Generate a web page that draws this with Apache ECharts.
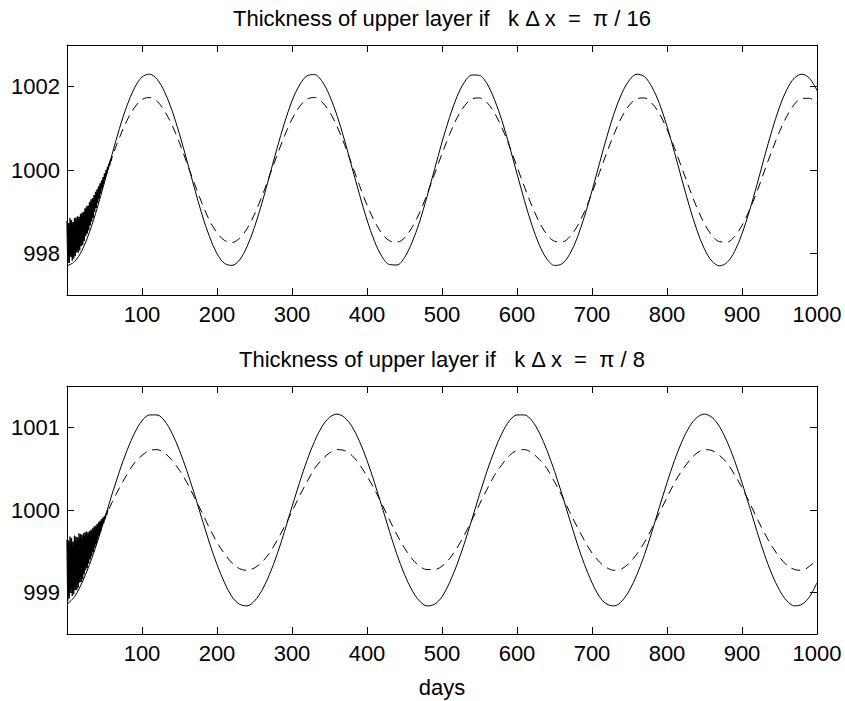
<!DOCTYPE html>
<html><head><meta charset="utf-8">
<script src="https://cdn.jsdelivr.net/npm/echarts@6/dist/echarts.min.js"></script>
<style>html,body{margin:0;padding:0;background:#fff}#c{width:845px;height:701px}</style>
</head><body><div id="c"></div>
<script>
// sampled days (every 10 days)
const days10 = [0,10,20,30,40,50,60,70,80,90,100,110,120,130,140,150,160,170,180,190,200,
210,220,230,240,250,260,270,280,290,300,310,320,330,340,350,360,370,380,390,400,
410,420,430,440,450,460,470,480,490,500,510,520,530,540,550,560,570,580,590,600,
610,620,630,640,650,660,670,680,690,700,710,720,730,740,750,760,770,780,790,800,
810,820,830,840,850,860,870,880,890,900,910,920,930,940,950,960,970,980,990,1000];

// top panel (k dx = pi/16)
const topSolid = [997.70,997.80,998.07,998.51,999.07,999.71,1000.37,1001.00,1001.55,1001.97,
1002.23,1002.30,1002.18,1001.88,1001.43,1000.86,1000.22,999.56,998.93,998.40,
997.99,997.76,997.71,997.84,998.16,998.63,999.21,999.86,1000.52,1001.13,
1001.66,1002.04,1002.26,1002.29,1002.13,1001.79,1001.31,1000.72,1000.06,999.41,
998.80,998.29,997.92,997.73,997.72,997.90,998.26,998.75,999.36,1000.01,
1000.67,1001.26,1001.76,1002.11,1002.28,1002.27,1002.07,1001.69,1001.18,1000.57,
999.91,999.26,998.67,998.19,997.86,997.71,997.75,997.97,998.36,998.89,
999.50,1000.16,1000.81,1001.39,1001.85,1002.16,1002.30,1002.24,1001.99,1001.59,
1001.05,1000.42,999.76,999.12,998.55,998.10,997.81,997.70,997.78,998.04,
998.47,999.02,999.65,1000.32,1000.95,1001.51,1001.94,1002.21,1002.30,1002.20,
1001.91];
const topDashed = [998.26,998.35,998.57,998.91,999.33,999.82,1000.31,1000.78,1001.19,1001.50,
1001.69,1001.74,1001.65,1001.42,1001.08,1000.65,1000.16,999.67,999.20,998.79,
998.49,998.31,998.26,998.36,998.59,998.94,999.37,999.86,1000.35,1000.82,
1001.22,1001.52,1001.70,1001.74,1001.63,1001.40,1001.05,1000.61,1000.12,999.63,
999.16,998.77,998.47,998.30,998.27,998.37,998.62,998.97,999.41,999.90,
1000.39,1000.85,1001.25,1001.54,1001.71,1001.73,1001.62,1001.37,1001.01,1000.57,
1000.08,999.59,999.13,998.74,998.45,998.29,998.27,998.39,998.64,999.00,
999.45,999.94,1000.43,1000.89,1001.28,1001.56,1001.71,1001.73,1001.60,1001.35,
1000.98,1000.53,1000.04,999.55,999.09,998.71,998.43,998.28,998.27,998.40,
998.67,999.04,999.48,999.98,1000.47,1000.92,1001.30,1001.58,1001.72,1001.72,
1001.59];

// bottom panel (k dx = pi/8)
const botSolid = [998.86,998.95,999.12,999.34,999.60,999.89,1000.19,1000.47,1000.72,1000.93,
1001.08,1001.15,1001.15,1001.08,1000.93,1000.72,1000.47,1000.19,999.89,999.60,
999.34,999.12,998.95,998.86,998.84,998.90,999.03,999.22,999.46,999.74,
1000.04,1000.33,1000.60,1000.83,1001.01,1001.12,1001.16,1001.12,1001.01,1000.83,
1000.60,1000.33,1000.04,999.74,999.46,999.22,999.03,998.90,998.84,998.86,
998.95,999.12,999.34,999.60,999.89,1000.19,1000.47,1000.72,1000.93,1001.08,
1001.15,1001.15,1001.08,1000.93,1000.72,1000.47,1000.19,999.89,999.60,999.34,
999.12,998.95,998.86,998.84,998.90,999.03,999.22,999.46,999.74,1000.04,
1000.33,1000.60,1000.83,1001.01,1001.12,1001.16,1001.12,1001.01,1000.83,1000.60,
1000.33,1000.04,999.74,999.46,999.22,999.03,998.90,998.84,998.86,998.95,
999.12];
const botDashed = [999.28,999.33,999.43,999.56,999.72,999.90,1000.09,1000.27,1000.43,1000.57,
1000.66,1000.72,1000.73,1000.69,1000.60,1000.48,1000.33,1000.15,999.97,999.78,
999.61,999.47,999.36,999.29,999.27,999.30,999.37,999.48,999.63,999.80,
999.98,1000.17,1000.34,1000.50,1000.61,1000.69,1000.73,1000.72,1000.66,1000.55,
1000.41,1000.25,1000.07,999.88,999.70,999.54,999.41,999.32,999.28,999.28,
999.32,999.41,999.54,999.70,999.88,1000.07,1000.25,1000.42,1000.55,1000.66,
1000.72,1000.73,1000.69,1000.61,1000.50,1000.34,1000.17,999.98,999.80,999.63,
999.48,999.37,999.30,999.27,999.29,999.36,999.47,999.61,999.78,999.97,
1000.15,1000.33,1000.48,1000.60,1000.69,1000.73,1000.72,1000.66,1000.57,1000.43,
1000.27,1000.09,999.90,999.72,999.56,999.43,999.33,999.28,999.27,999.32,
999.40];

// early fast oscillations of the numerical solution (daily values)
const noiseDays = [0,1,2,3,4,5,6,7,8,9,10,11,12,13,14,15,16,17,18,19,20,
21,22,23,24,25,26,27,28,29,30,31,32,33,34,35,36,37,38,39,40,
41,42,43,44,45,46,47,48,49,50,51,52,53,54,55,56,57,58,59,60];
const topNoise = [998.78,997.77,998.73,997.77,998.85,997.91,998.80,997.82,998.75,997.87,
998.85,997.93,998.86,998.02,998.89,998.02,998.88,998.07,998.95,998.17,
998.98,998.20,999.00,998.29,999.08,998.41,999.13,998.47,999.15,998.55,
999.23,998.67,999.30,998.76,999.33,998.85,999.40,998.99,999.48,999.09,
999.54,999.20,999.61,999.31,999.68,999.43,999.75,999.54,999.83,999.66,
999.92,999.78,1000.00,999.90,1000.08,1000.01,1000.16,1000.11,1000.25,1000.22,
1000.34];
const botNoise = [999.64,998.90,999.63,998.93,999.68,999.00,999.66,998.96,999.62,998.98,
999.69,999.03,999.68,999.03,999.67,999.06,999.72,999.12,999.71,999.13,
999.70,999.16,999.72,999.22,999.73,999.27,999.74,999.30,999.73,999.35,
999.75,999.40,999.76,999.44,999.78,999.49,999.80,999.54,999.81,999.58,
999.83,999.64,999.85,999.69,999.87,999.74,999.89,999.80,999.91,999.84,
999.93,999.89,999.96,999.94,999.99,1000.00];

const xTicks = [0,100,200,300,400,500,600,700,800,900,1000];
const xLabels = [100,200,300,400,500,600,700,800,900,1000];
const topYTicks = [998,1000,1002];
const botYTicks = [999,1000,1001];
const titles = ['Thickness of upper layer if   k \u0394 x  =  \u03c0 / 16',
                'Thickness of upper layer if   k \u0394 x  =  \u03c0 / 8'];
const xName = 'days';

const FONT = '"Liberation Sans", Arial, Helvetica, sans-serif';
const chart = echarts.init(document.getElementById('c'), null, {renderer: 'svg', width: 845, height: 701});
const pairs = (xs, ys) => ys.map((y, i) => [xs[i], y]);
const txt = {color: '#000', fontSize: 22, fontFamily: FONT};
const plain = v => String(v);

function xAx(gi, pos, showLabels, name) {
  return {
    type: 'value', gridIndex: gi, position: pos, min: 0, max: 1000, interval: 100,
    axisLine: {show: true, onZero: false, lineStyle: {color: '#000', width: 1}},
    axisTick: {show: true, inside: true, length: 7, customValues: xTicks, lineStyle: {color: '#000', width: 1}},
    axisLabel: Object.assign({show: showLabels, customValues: xLabels, margin: 8, formatter: plain}, txt),
    splitLine: {show: false},
    name: name || '', nameLocation: 'middle', nameGap: 42,
    nameTextStyle: txt
  };
}
function yAx(gi, pos, showLabels, min, max, interval, ticks) {
  return {
    type: 'value', gridIndex: gi, position: pos, min: min, max: max, interval: interval,
    axisLine: {show: true, onZero: false, lineStyle: {color: '#000', width: 1}},
    axisTick: {show: true, inside: true, length: 7, customValues: ticks, lineStyle: {color: '#000', width: 1}},
    axisLabel: Object.assign({show: showLabels, customValues: ticks, margin: 7, formatter: plain}, txt),
    splitLine: {show: false}
  };
}
function line(data, xi, yi, dashed, smooth, w) {
  return {
    type: 'line', xAxisIndex: xi, yAxisIndex: yi, data: data, showSymbol: false, symbol: 'none',
    smooth: smooth, silent: true,
    lineStyle: {color: '#000', width: w, type: dashed ? [9, 6] : 'solid'}
  };
}

chart.setOption({
  animation: false,
  backgroundColor: '#fff',
  title: [
    {text: titles[0], left: 442, top: 7, textAlign: 'center', padding: 0, textStyle: Object.assign({fontWeight: 'normal'}, txt)},
    {text: titles[1], left: 442, top: 348, textAlign: 'center', padding: 0, textStyle: Object.assign({fontWeight: 'normal'}, txt)}
  ],
  grid: [
    {left: 67, top: 45, width: 750, height: 250, containLabel: false},
    {left: 67, top: 386, width: 750, height: 248, containLabel: false}
  ],
  xAxis: [xAx(0, 'bottom', true), xAx(0, 'top', false), xAx(1, 'bottom', true, xName), xAx(1, 'top', false)],
  yAxis: [
    yAx(0, 'left', true, 997, 1003, 1, topYTicks), yAx(0, 'right', false, 997, 1003, 1, topYTicks),
    yAx(1, 'left', true, 998.5, 1001.5, 0.5, botYTicks), yAx(1, 'right', false, 998.5, 1001.5, 0.5, botYTicks)
  ],
  series: [
    line(pairs(days10, topSolid), 0, 0, false, 0.33, 1),
    line(pairs(days10, topDashed), 0, 0, true, 0.33, 1),
    line(pairs(noiseDays, topNoise), 0, 0, false, false, 1.3),
    line(pairs(days10, botSolid), 2, 2, false, 0.33, 1),
    line(pairs(days10, botDashed), 2, 2, true, 0.33, 1),
    line(pairs(noiseDays, botNoise), 2, 2, false, false, 1.3)
  ]
});
</script>
</body></html>
